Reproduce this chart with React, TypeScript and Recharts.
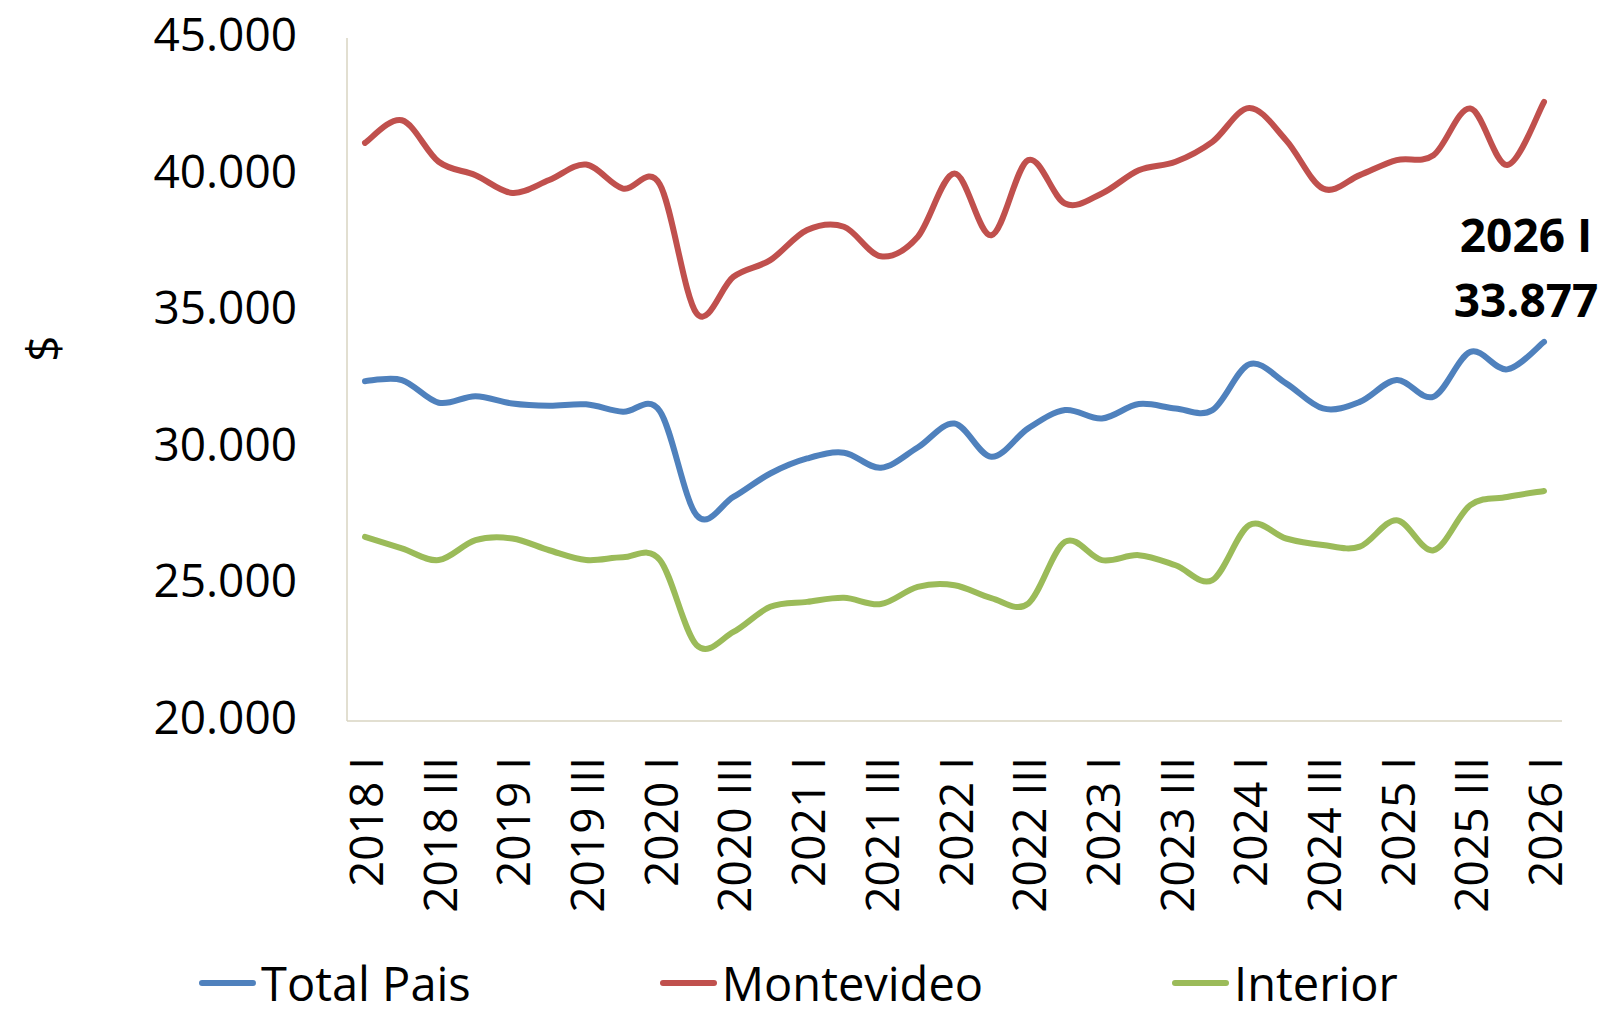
import React from 'react';
import { LineChart, Line, XAxis, YAxis, Legend } from 'recharts';

const quarters = [
  '2018 I', '2018 II', '2018 III', '2018 IV',
  '2019 I', '2019 II', '2019 III', '2019 IV',
  '2020 I', '2020 II', '2020 III', '2020 IV',
  '2021 I', '2021 II', '2021 III', '2021 IV',
  '2022 I', '2022 II', '2022 III', '2022 IV',
  '2023 I', '2023 II', '2023 III', '2023 IV',
  '2024 I', '2024 II', '2024 III', '2024 IV',
  '2025 I', '2025 II', '2025 III', '2025 IV',
  '2026 I',
];

const totalPais = [
  32440, 32480, 31650, 31890, 31620, 31540, 31590, 31320,
  31350, 27530, 28200, 29060, 29610, 29820, 29270, 30010,
  30890, 29670, 30710, 31380, 31070, 31600, 31440, 31380,
  33060, 32360, 31440, 31680, 32480, 31870, 33510, 32870,
  33877,
];

const montevideo = [
  41160, 41990, 40470, 39980, 39330, 39800, 40370, 39490,
  39650, 34920, 36260, 36870, 37970, 38090, 37010, 37720,
  40040, 37780, 40530, 38940, 39310, 40160, 40470, 41200,
  42440, 41260, 39490, 39980, 40530, 40710, 42420, 40350,
  42660,
];

const interior = [
  26740, 26320, 25890, 26620, 26680, 26250, 25890, 25990,
  25900, 22780, 23260, 24180, 24360, 24510, 24280, 24910,
  24970, 24500, 24300, 26560, 25890, 26070, 25700, 25160,
  27170, 26680, 26440, 26380, 27350, 26250, 27900, 28200,
  28420,
];

const yTicks = [20000, 25000, 30000, 35000, 40000, 45000];
const seriesNames = ['Total Pais', 'Montevideo', 'Interior'];
const seriesKeys = ['total', 'mvd', 'int'];
const seriesColors = ['#4F81BD', '#C0504D', '#9BBB59'];
const yAxisTitle = '$';

const data = quarters.map((q, i) => ({
  q,
  total: totalPais[i],
  mvd: montevideo[i],
  int: interior[i],
}));

const FONT = '"Open Sans", sans-serif';
const AXIS = '#D9D5C2';

const fmt = (v: number) => String(v).replace(/\B(?=(\d{3})+(?!\d))/g, '.');

// Excel-like smoothed line (Catmull-Rom style bezier)
function excelSmooth(context: any) {
  let pts: number[][] = [];
  return {
    areaStart() {},
    areaEnd() {},
    lineStart() {
      pts = [];
    },
    lineEnd() {
      const n = pts.length;
      if (n === 0) return;
      context.moveTo(pts[0][0], pts[0][1]);
      for (let i = 0; i < n - 1; i++) {
        const p0 = pts[i === 0 ? 0 : i - 1];
        const p1 = pts[i];
        const p2 = pts[i + 1];
        const p3 = pts[i + 2 < n ? i + 2 : n - 1];
        context.bezierCurveTo(
          p1[0] + (p2[0] - p0[0]) / 6,
          p1[1] + (p2[1] - p0[1]) / 6,
          p2[0] - (p3[0] - p1[0]) / 6,
          p2[1] - (p3[1] - p1[1]) / 6,
          p2[0],
          p2[1]
        );
      }
    },
    point(x: number, y: number) {
      pts.push([+x, +y]);
    },
  };
}

const XTick = (props: any) => {
  const { x, y, payload } = props;
  return (
    <text
      x={x}
      y={y}
      transform={`rotate(-90, ${x}, ${y})`}
      textAnchor="end"
      dominantBaseline="central"
      fontFamily={FONT}
      fontSize={46}
      fill="#000"
    >
      {payload.value}
    </text>
  );
};

const YTick = (props: any) => {
  const { x, y, payload } = props;
  return (
    <text
      x={x}
      y={y - 5}
      textAnchor="end"
      dominantBaseline="central"
      fontFamily={FONT}
      fontSize={46}
      fill="#000"
    >
      {fmt(payload.value)}
    </text>
  );
};

const YTitle = (props: any) => {
  const vb = props.viewBox || {};
  const x = (vb.x || 0) + 42;
  const y = (vb.y || 0) + vb.height / 2 - 31;
  return (
    <text
      x={x}
      y={y}
      transform={`rotate(-90, ${x}, ${y})`}
      textAnchor="middle"
      dominantBaseline="central"
      fontFamily={FONT}
      fontSize={46}
      fill="#000"
    >
      {yAxisTitle}
    </text>
  );
};

const LastLabel = (props: any) => {
  const { x, y, index } = props;
  if (index !== quarters.length - 1) return <g />;
  return (
    <g>
      <text
        x={x - 18}
        y={y - 108}
        textAnchor="middle"
        dominantBaseline="central"
        fontFamily={FONT}
        fontSize={46}
        fontWeight={700}
        fill="#000"
      >
        {quarters[index]}
      </text>
      <text
        x={x - 18}
        y={y - 43}
        textAnchor="middle"
        dominantBaseline="central"
        fontFamily={FONT}
        fontSize={46}
        fontWeight={700}
        fill="#000"
      >
        {fmt(totalPais[index])}
      </text>
    </g>
  );
};

const LegendContent = () => (
  <div style={{ height: 60, position: 'relative' }}>
    <div
      style={{
        display: 'flex',
        alignItems: 'center',
        height: 60,
        paddingLeft: 199,
        gap: 189,
        fontFamily: FONT,
        fontSize: 47,
        color: '#000',
        transform: 'translateY(-2px)',
        whiteSpace: 'nowrap',
      }}
    >
      {seriesNames.map((n, i) => (
        <div key={n} style={{ display: 'flex', alignItems: 'center' }}>
          <span
            style={{
              display: 'inline-block',
              width: 57,
              height: 6,
              borderRadius: 3,
              background: seriesColors[i],
              marginRight: 5,
            }}
          />
          <span style={{ lineHeight: '60px' }}>{n}</span>
        </div>
      ))}
    </div>
  </div>
);

export default function App() {
  return (
    <div style={{ position: 'absolute', left: 0, top: 0, width: 1603, height: 1015, background: '#fff' }}>
      <LineChart
        width={1603}
        height={1015}
        data={data}
        margin={{ top: 38, right: 41, bottom: 0, left: 0 }}
      >
        <XAxis
          dataKey="q"
          interval={1}
          tickLine={false}
          tickSize={0}
          tickMargin={36}
          height={234}
          padding={{ left: 18, right: 18 }}
          axisLine={{ stroke: AXIS, strokeWidth: 1.5 }}
          tick={XTick}
        />
        <YAxis
          type="number"
          domain={[20000, 45000]}
          ticks={yTicks}
          width={347}
          tickLine={false}
          tickSize={0}
          tickMargin={50}
          axisLine={{ stroke: AXIS, strokeWidth: 1.5 }}
          tick={YTick}
          label={<YTitle />}
        />
        <Legend verticalAlign="bottom" height={60} content={<LegendContent />} />
        {seriesKeys.map((k, i) => (
          <Line
            key={k}
            dataKey={k}
            name={seriesNames[i]}
            type={excelSmooth as any}
            stroke={seriesColors[i]}
            strokeWidth={6}
            strokeLinecap="round"
            dot={false}
            activeDot={false}
            isAnimationActive={false}
            label={k === 'total' ? LastLabel : undefined}
          />
        ))}
      </LineChart>
    </div>
  );
}
